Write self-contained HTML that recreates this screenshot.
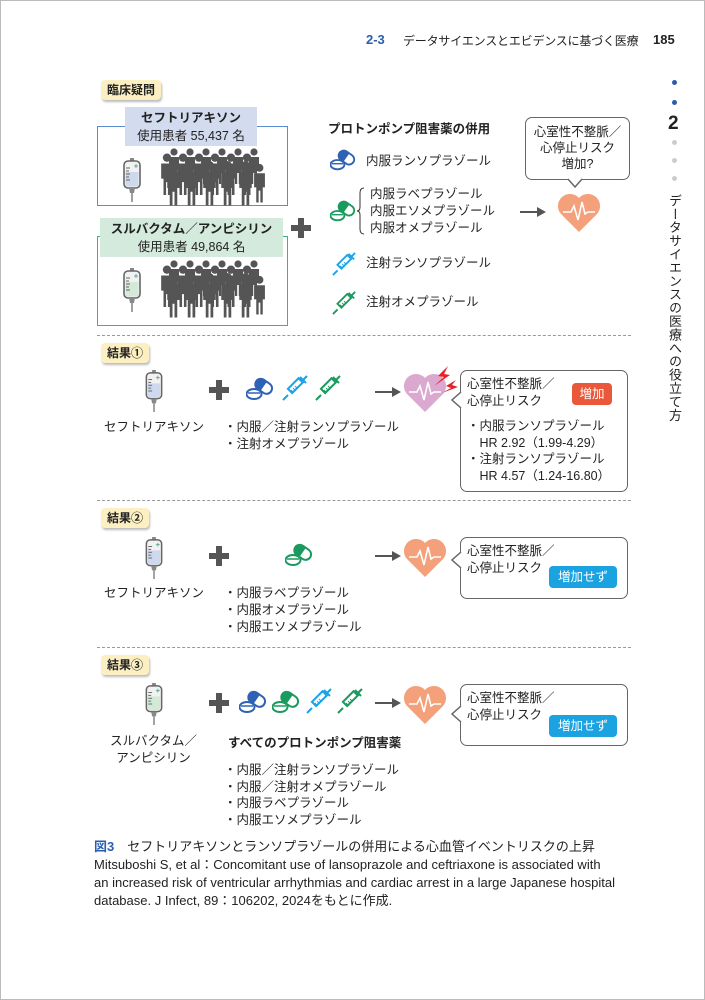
<!DOCTYPE html>
<html><head><meta charset="utf-8">
<style>
*{margin:0;padding:0;box-sizing:border-box}
body{width:705px;height:1000px;background:#fff;position:relative;overflow:hidden;font-family:"Liberation Sans","Noto Sans CJK JP",sans-serif;color:#222}
.a{position:absolute;white-space:nowrap}
.t{font-size:12.5px;line-height:16px}
.b{font-weight:bold}
.lab{position:absolute;background:#fcefc2;border-radius:4px;box-shadow:1px 2px 2px #bbb;font-size:12px;font-weight:bold;padding:2px 6px;line-height:16px}
.dash{position:absolute;left:97px;width:534px;border-top:1.5px dashed #999}
.bub{position:absolute;border:1.5px solid #666;border-radius:7px;background:#fff}
.btn{position:absolute;color:#fff;font-size:12.5px;text-align:center;border-radius:4px;line-height:22px}
svg{position:absolute;overflow:visible}
</style></head><body>
<svg width="0" height="0" style="position:absolute">
<defs>
<symbol id="iv" viewBox="0 0 22 44"><rect x="9" y="0" width="4" height="4" fill="#888"/><rect x="3" y="3" width="16" height="27" rx="4" fill="#f2f2f2" stroke="#666" stroke-width="1.6"/><path d="M4.5 14H17.5V26Q17.5 28.5 15 28.5H7Q4.5 28.5 4.5 26Z" fill="currentColor"/><g stroke="#666" stroke-width="1"><line x1="5" y1="10" x2="9" y2="10"/><line x1="5" y1="13" x2="8" y2="13"/><line x1="5" y1="16" x2="9" y2="16"/><line x1="5" y1="19" x2="8" y2="19"/><line x1="5" y1="22" x2="9" y2="22"/></g><path d="M15 6v4M13 8h4" stroke="#6a9" stroke-width="1"/><path d="M8 30h6l-1 5h-4z" fill="#888"/><line x1="11" y1="35" x2="11" y2="44" stroke="#888" stroke-width="1.6"/></symbol>
<symbol id="pill" viewBox="0 0 28 24"><g transform="rotate(35 16 10)"><rect x="8" y="3" width="18" height="11" rx="5.5" fill="#fff" stroke="currentColor" stroke-width="2"/><path d="M8 8.5a5.5 5.5 0 0 1 5.5-5.5H17v11h-3.5A5.5 5.5 0 0 1 8 8.5z" fill="currentColor"/></g><ellipse cx="8" cy="17" rx="7.5" ry="5" fill="#fff" stroke="currentColor" stroke-width="2"/><line x1="2" y1="16" x2="14" y2="16" stroke="currentColor" stroke-width="1.5"/></symbol>
<symbol id="syr" viewBox="0 0 26 26"><g fill="none" stroke="currentColor" stroke-width="2"><line x1="1" y1="25" x2="6" y2="20"/><rect x="6" y="8" width="15" height="6" transform="rotate(-45 13 11)"/><line x1="18" y1="2" x2="24" y2="8"/><line x1="21" y1="5" x2="25" y2="1"/></g><g stroke="currentColor" stroke-width="1"><line x1="9" y1="15" x2="11" y2="17"/><line x1="11" y1="13" x2="13" y2="15"/><line x1="13" y1="11" x2="15" y2="13"/></g></symbol>
<symbol id="heart" viewBox="0 0 44 40"><path d="M22 40L4 22A11 11 0 0 1 22 6A11 11 0 0 1 40 22Z" fill="currentColor"/><polyline points="6,20 14,20 17,14 21,28 25,10 28,22 31,20 38,20" fill="none" stroke="#fff" stroke-width="1.6"/></symbol>
<symbol id="person" viewBox="0 0 12 36"><circle cx="6" cy="4" r="3.6"/><path d="M1 9h10v13h-2v14h-2.2v-11h-1.6v11H3V22H1z"/></symbol>
<symbol id="crowd" viewBox="0 0 106 58"><g fill="#555"><use href="#person" x="8" y="0" width="12" height="36"/><use href="#person" x="24" y="0" width="12" height="36"/><use href="#person" x="40" y="0" width="12" height="36"/><use href="#person" x="56" y="0" width="12" height="36"/><use href="#person" x="72" y="0" width="12" height="36"/><use href="#person" x="88" y="0" width="12" height="36"/><use href="#person" x="0" y="5" width="14" height="42"/><use href="#person" x="16" y="5" width="14" height="42"/><use href="#person" x="32" y="5" width="14" height="42"/><use href="#person" x="48" y="5" width="14" height="42"/><use href="#person" x="64" y="5" width="14" height="42"/><use href="#person" x="80" y="5" width="14" height="42"/><use href="#person" x="6" y="12" width="15" height="46"/><use href="#person" x="24" y="12" width="15" height="46"/><use href="#person" x="42" y="12" width="15" height="46"/><use href="#person" x="60" y="12" width="15" height="46"/><use href="#person" x="78" y="12" width="15" height="46"/><use href="#person" x="93" y="12" width="13" height="46"/></g></symbol>
<symbol id="plus" viewBox="0 0 20 20"><path d="M7 0h6v7h7v6h-7v7H7v-7H0V7h7z" fill="#555"/></symbol>
<symbol id="arr" viewBox="0 0 26 10"><line x1="0" y1="5" x2="19" y2="5" stroke="#555" stroke-width="2"/><path d="M17 0l9 5-9 5z" fill="#555"/></symbol>
</defs></svg>

<div style="position:absolute;inset:0;border:1px solid #bbb"></div>

<!-- header -->
<div class="a b" style="left:366px;top:32px;font-size:13px;color:#2a5db0">2-3</div>
<div class="a" style="left:403px;top:32px;font-size:12px;letter-spacing:-0.2px">データサイエンスとエビデンスに基づく医療</div>
<div class="a b" style="left:653px;top:32px;font-size:13px">185</div>
<div class="a" style="left:672px;top:80px;width:5px;height:5px;border-radius:50%;background:#2a5db0"></div>
<div class="a" style="left:672px;top:100px;width:5px;height:5px;border-radius:50%;background:#2a5db0"></div>
<div class="a b" style="left:668px;top:113px;font-size:19px">2</div>
<div class="a" style="left:672px;top:140px;width:5px;height:5px;border-radius:50%;background:#ccc"></div>
<div class="a" style="left:672px;top:158px;width:5px;height:5px;border-radius:50%;background:#ccc"></div>
<div class="a" style="left:672px;top:176px;width:5px;height:5px;border-radius:50%;background:#ccc"></div>
<div class="a" style="left:665px;top:194px;writing-mode:vertical-rl;font-size:13px;line-height:18px;letter-spacing:0.4px">データサイエンスの医療への役立て方</div>

<!-- clinical question -->
<div class="lab" style="left:101px;top:80px">臨床疑問</div>
<div class="a" style="left:97px;top:126px;width:191px;height:80px;border:1.5px solid #5b8bd0"></div>
<div class="a" style="left:125px;top:107px;width:132px;height:39px;background:#d3dcee;text-align:center;font-size:12.5px;line-height:18px;padding-top:2px"><b>セフトリアキソン</b><br>使用患者 55,437 名</div>
<svg style="left:121px;top:158px;color:#cfd9ee" width="22" height="44"><use href="#iv" width="22" height="44"/></svg>
<svg style="left:160px;top:148px" width="106" height="58"><use href="#crowd" width="106" height="58"/></svg>

<div class="a" style="left:97px;top:236px;width:191px;height:90px;border:1.5px solid #3ab38a"></div>
<div class="a" style="left:100px;top:218px;width:183px;height:39px;background:#d3eadd;text-align:center;font-size:12.5px;line-height:18px;padding-top:2px"><b>スルバクタム／アンピシリン</b><br>使用患者 49,864 名</div>
<svg style="left:121px;top:268px;color:#d3ead8" width="22" height="44"><use href="#iv" width="22" height="44"/></svg>
<svg style="left:160px;top:260px" width="106" height="58"><use href="#crowd" width="106" height="58"/></svg>

<svg style="left:291px;top:218px" width="20" height="20"><use href="#plus" width="20" height="20"/></svg>

<div class="a t b" style="left:328px;top:121px">プロトンポンプ阻害薬の併用</div>
<svg style="left:330px;top:148px;color:#2f62b5" width="26" height="24"><use href="#pill" width="26" height="24"/></svg>
<div class="a t" style="left:366px;top:153px">内服ランソプラゾール</div>
<svg style="left:330px;top:199px;color:#1a9a5e" width="26" height="24"><use href="#pill" width="26" height="24"/></svg>
<svg style="left:357px;top:187px" width="8" height="48"><path d="M7 1Q3 1 3 6V20Q3 24 0 24Q3 24 3 28V42Q3 47 7 47" fill="none" stroke="#333" stroke-width="1"/></svg>
<div class="a t" style="left:370px;top:186px;line-height:17px">内服ラベプラゾール<br>内服エソメプラゾール<br>内服オメプラゾール</div>
<svg style="left:332px;top:252px;color:#1aa3e8" width="24" height="24"><use href="#syr" width="24" height="24"/></svg>
<div class="a t" style="left:366px;top:255px">注射ランソプラゾール</div>
<svg style="left:332px;top:291px;color:#1a9a5e" width="24" height="24"><use href="#syr" width="24" height="24"/></svg>
<div class="a t" style="left:366px;top:294px">注射オメプラゾール</div>

<svg style="left:520px;top:207px" width="26" height="10"><use href="#arr" width="26" height="10"/></svg>
<div class="bub" style="left:525px;top:117px;width:105px;height:63px;text-align:center;font-size:12.5px;line-height:16px;padding-top:6px">心室性不整脈／<br>心停止リスク<br>増加?</div>
<svg style="left:568px;top:179px" width="14" height="9"><path d="M0 0L7 8L14 0" fill="#fff" stroke="#666" stroke-width="1.5"/><rect x="1" y="-2" width="12" height="2.5" fill="#fff"/></svg>
<svg style="left:557px;top:192px;color:#f4a07a" width="44" height="40"><use href="#heart" width="44" height="40"/></svg>

<div class="dash" style="top:335px"></div>

<!-- result 1 -->
<div class="lab" style="left:101px;top:343px">結果①</div>
<svg style="left:143px;top:370px;color:#cfd9ee" width="22" height="42"><use href="#iv" width="22" height="42"/></svg>
<svg style="left:209px;top:380px" width="20" height="20"><use href="#plus" width="20" height="20"/></svg>
<svg style="left:246px;top:377px;color:#2f62b5" width="28" height="24"><use href="#pill" width="28" height="24"/></svg>
<svg style="left:282px;top:375px;color:#1aa3e8" width="26" height="26"><use href="#syr" width="26" height="26"/></svg>
<svg style="left:315px;top:375px;color:#1a9a5e" width="26" height="26"><use href="#syr" width="26" height="26"/></svg>
<div class="a t" style="left:104px;top:419px">セフトリアキソン</div>
<div class="a t" style="left:224px;top:419px;line-height:17px">・内服／注射ランソプラゾール<br>・注射オメプラゾール</div>
<svg style="left:375px;top:387px" width="26" height="10"><use href="#arr" width="26" height="10"/></svg>
<svg style="left:403px;top:372px;color:#dba8cf" width="44" height="40"><use href="#heart" width="44" height="40"/></svg>
<svg style="left:428px;top:366px" width="30" height="30"><path d="M20 0L10 10L16 11L6 20L22 9L16 8Z" fill="#e8202a"/><path d="M28 14L18 20L23 22L14 27L30 21L24 19Z" fill="#e8202a"/></svg>
<div class="bub" style="left:460px;top:370px;width:168px;height:122px"></div>
<svg style="left:451px;top:392px" width="11" height="16"><path d="M10 0L1 8L10 16" fill="#fff" stroke="#666" stroke-width="1.5"/><rect x="10" y="1" width="3" height="14" fill="#fff"/></svg>
<div class="a t" style="left:467px;top:376px;line-height:17px">心室性不整脈／<br>心停止リスク</div>
<div class="btn" style="left:572px;top:383px;width:40px;background:#e9583a">増加</div>
<div class="a t" style="left:467px;top:418px;line-height:16.5px">・内服ランソプラゾール<br>　HR 2.92（1.99-4.29）<br>・注射ランソプラゾール<br>　HR 4.57（1.24-16.80）</div>

<div class="dash" style="top:500px"></div>

<!-- result 2 -->
<div class="lab" style="left:101px;top:508px">結果②</div>
<svg style="left:143px;top:537px;color:#cfd9ee" width="22" height="42"><use href="#iv" width="22" height="42"/></svg>
<svg style="left:209px;top:546px" width="20" height="20"><use href="#plus" width="20" height="20"/></svg>
<svg style="left:285px;top:543px;color:#1a9a5e" width="28" height="24"><use href="#pill" width="28" height="24"/></svg>
<div class="a t" style="left:104px;top:585px">セフトリアキソン</div>
<div class="a t" style="left:224px;top:585px;line-height:17px">・内服ラベプラゾール<br>・内服オメプラゾール<br>・内服エソメプラゾール</div>
<svg style="left:375px;top:551px" width="26" height="10"><use href="#arr" width="26" height="10"/></svg>
<svg style="left:403px;top:537px;color:#f4a07a" width="44" height="40"><use href="#heart" width="44" height="40"/></svg>
<div class="bub" style="left:460px;top:537px;width:168px;height:62px"></div>
<svg style="left:451px;top:552px" width="11" height="16"><path d="M10 0L1 8L10 16" fill="#fff" stroke="#666" stroke-width="1.5"/><rect x="10" y="1" width="3" height="14" fill="#fff"/></svg>
<div class="a t" style="left:467px;top:543px;line-height:17px">心室性不整脈／<br>心停止リスク</div>
<div class="btn" style="left:549px;top:566px;width:68px;background:#1aa3e0">増加せず</div>

<div class="dash" style="top:647px"></div>

<!-- result 3 -->
<div class="lab" style="left:101px;top:655px">結果③</div>
<svg style="left:143px;top:683px;color:#d3ead8" width="22" height="42"><use href="#iv" width="22" height="42"/></svg>
<svg style="left:209px;top:693px" width="20" height="20"><use href="#plus" width="20" height="20"/></svg>
<svg style="left:239px;top:690px;color:#2f62b5" width="28" height="24"><use href="#pill" width="28" height="24"/></svg>
<svg style="left:272px;top:690px;color:#1a9a5e" width="28" height="24"><use href="#pill" width="28" height="24"/></svg>
<svg style="left:306px;top:688px;color:#1aa3e8" width="26" height="26"><use href="#syr" width="26" height="26"/></svg>
<svg style="left:337px;top:688px;color:#1a9a5e" width="26" height="26"><use href="#syr" width="26" height="26"/></svg>
<div class="a t" style="left:110px;top:733px;line-height:17px;text-align:center">スルバクタム／<br>アンピシリン</div>
<div class="a t b" style="left:228px;top:735px">すべてのプロトンポンプ阻害薬</div>
<div class="a t" style="left:224px;top:762px;line-height:16.5px">・内服／注射ランソプラゾール<br>・内服／注射オメプラゾール<br>・内服ラベプラゾール<br>・内服エソメプラゾール</div>
<svg style="left:375px;top:698px" width="26" height="10"><use href="#arr" width="26" height="10"/></svg>
<svg style="left:403px;top:684px;color:#f4a07a" width="44" height="40"><use href="#heart" width="44" height="40"/></svg>
<div class="bub" style="left:460px;top:684px;width:168px;height:62px"></div>
<svg style="left:451px;top:706px" width="11" height="16"><path d="M10 0L1 8L10 16" fill="#fff" stroke="#666" stroke-width="1.5"/><rect x="10" y="1" width="3" height="14" fill="#fff"/></svg>
<div class="a t" style="left:467px;top:690px;line-height:17px">心室性不整脈／<br>心停止リスク</div>
<div class="btn" style="left:549px;top:715px;width:68px;background:#1aa3e0">増加せず</div>

<!-- caption -->
<div class="a" style="left:94px;top:838px;font-size:13px;line-height:18px"><b style="color:#2a5db0">図3</b>　セフトリアキソンとランソプラゾールの併用による心血管イベントリスクの上昇<br>Mitsuboshi S, et al：Concomitant use of lansoprazole and ceftriaxone is associated with<br>an increased risk of ventricular arrhythmias and cardiac arrest in a large Japanese hospital<br>database. J Infect, 89：106202, 2024をもとに作成.</div>
</body></html>
